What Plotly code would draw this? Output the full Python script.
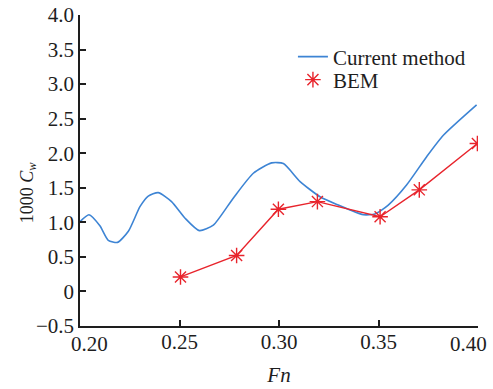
import plotly.graph_objects as go

# Current method (blue curve)
cur_x = [0.200, 0.2045, 0.2100, 0.2142, 0.2189, 0.2243, 0.2302, 0.2343, 0.2393, 0.2460,
         0.2528, 0.2600, 0.2670, 0.2770, 0.2871, 0.2963, 0.3022, 0.3106, 0.3206, 0.3298,
         0.3357, 0.3424, 0.3482, 0.3549, 0.3641, 0.3742, 0.3826, 0.3993]
cur_y = [1.01, 1.11, 0.95, 0.74, 0.71, 0.87, 1.23, 1.38, 1.43, 1.30,
         1.06, 0.88, 0.96, 1.35, 1.71, 1.86, 1.85, 1.59, 1.37, 1.25,
         1.18, 1.11, 1.12, 1.25, 1.54, 1.95, 2.26, 2.70]

# BEM (red asterisks)
bem_x = [0.2505, 0.2787, 0.2997, 0.3193, 0.3508, 0.3705, 0.3997]
bem_y = [0.21, 0.52, 1.19, 1.30, 1.08, 1.47, 2.14]

x_ticks = [0.20, 0.25, 0.30, 0.35, 0.40]
x_labels = ["0.20", "0.25", "0.30", "0.35", "0.40"]
y_ticks = [-0.5, 0, 0.5, 1.0, 1.5, 2.0, 2.5, 3.0, 3.5, 4.0]
y_labels = ["\u22120.5", "0", "0.5", "1.0", "1.5", "2.0", "2.5", "3.0", "3.5", "4.0"]

font_family = "Liberation Serif, Times New Roman, serif"
BLUE = "#3d84d4"
RED = "#e8242c"
INK = "#1e1e1e"

fig = go.Figure()
fig.add_trace(go.Scatter(x=cur_x, y=cur_y, mode="lines", name="Current method",
                         legend="legend",
                         line=dict(color=BLUE, width=1.6, shape="spline", smoothing=0.6)))
fig.add_trace(go.Scatter(x=bem_x, y=bem_y, mode="lines+markers", name="BEM", showlegend=False,
                         line=dict(color=RED, width=1.4),
                         marker=dict(symbol="asterisk-open", size=13, color=RED,
                                     line=dict(color=RED, width=1.4))))
# legend entry for BEM: marker only
fig.add_trace(go.Scatter(x=[None], y=[None], mode="markers", name="BEM", legend="legend2",
                         marker=dict(symbol="asterisk-open", size=13, color=RED,
                                     line=dict(color=RED, width=1.4))))

leg_common = dict(xanchor="left", yanchor="middle", bgcolor="rgba(0,0,0,0)",
                  font=dict(size=21, family=font_family, color=INK), itemwidth=30)

tick_font = dict(size=21, family=font_family, color=INK)
fig.update_layout(
    width=493, height=389,
    margin=dict(l=80, r=15, t=15, b=63),
    paper_bgcolor="white", plot_bgcolor="white",
    font=dict(family=font_family, size=21, color=INK),
    showlegend=True,
    legend=dict(x=0.535, y=0.865, **leg_common),
    legend2=dict(x=0.535, y=0.791, **leg_common),
    xaxis=dict(range=[0.2, 0.4], tickvals=x_ticks[1:-1], ticktext=x_labels[1:-1],
               automargin=False,
               showgrid=False, zeroline=False, showline=True, linecolor=INK,
               linewidth=1.5, ticks="inside", ticklen=6, tickwidth=1.5, tickcolor=INK,
               tickfont=dict(size=21), ticklabelstandoff=-4,
               minor=dict(tickmode="array", tickvals=[x_ticks[0], x_ticks[-1]],
                          ticks="inside", ticklen=6, tickwidth=1.5, tickcolor=INK,
                          showgrid=False),
               title=dict(text="<i>Fn</i>", font=dict(size=21, family=font_family), standoff=14)),
    yaxis=dict(range=[-0.5, 4.0], tickvals=y_ticks, ticktext=y_labels, automargin=False,
               showgrid=False, zeroline=False, showline=True, linecolor=INK,
               linewidth=1.5, ticks="inside", ticklen=6, tickwidth=1.5, tickcolor=INK,
               tickfont=dict(size=21)),
    annotations=[
        # end labels of the x axis, nudged inward as in the reference
        dict(text=x_labels[0], x=x_ticks[0], xref="x", y=-0.059, yref="paper",
             xanchor="center", yanchor="middle", xshift=9, showarrow=False, font=tick_font),
        dict(text=x_labels[-1], x=x_ticks[-1], xref="x", y=-0.059, yref="paper",
             xanchor="center", yanchor="middle", xshift=-10, showarrow=False, font=tick_font),
        dict(text="1000 <i>C</i><sub><i>w</i></sub>", textangle=-90,
             x=-0.1307, xref="paper", y=0.43, yref="paper",
             xanchor="center", yanchor="middle", showarrow=False,
             font=dict(size=18, family=font_family, color=INK)),
    ],
)

fig.write_html("out.html")
